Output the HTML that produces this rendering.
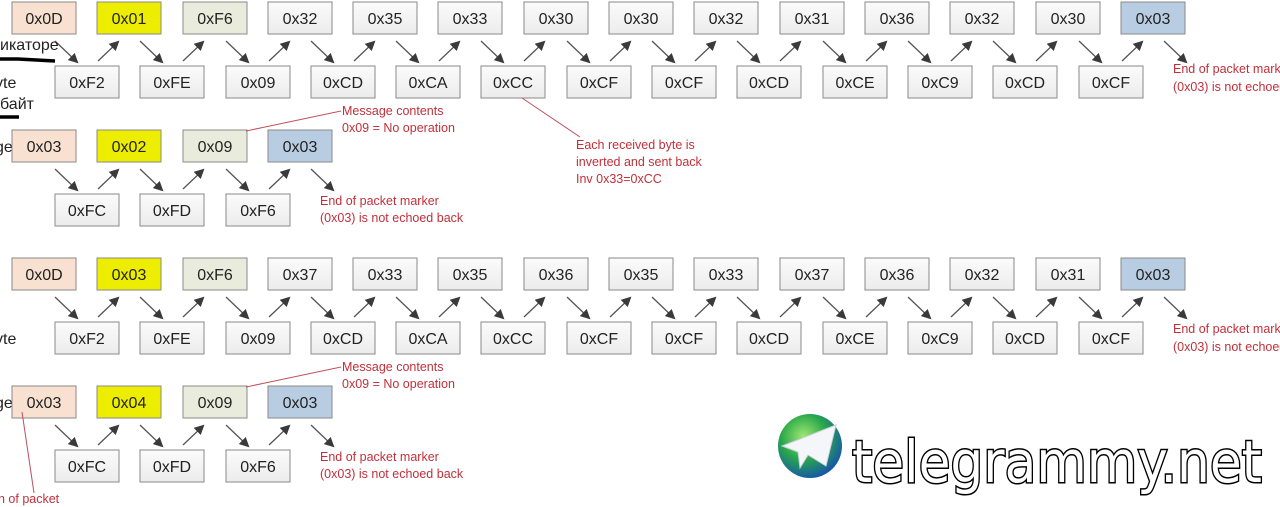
<!DOCTYPE html>
<html><head><meta charset="utf-8"><style>
html,body{margin:0;padding:0;background:#fff;width:1280px;height:507px;overflow:hidden}
svg{display:block}
</style></head><body>
<svg width="1280" height="507" viewBox="0 0 1280 507" xmlns="http://www.w3.org/2000/svg" font-family="'Liberation Sans','Noto Sans CJK SC',sans-serif">
<defs>
<marker id="a" viewBox="0 0 10 10" refX="9" refY="5" markerWidth="7" markerHeight="7" markerUnits="userSpaceOnUse" orient="auto"><path d="M0,0 L10,5 L0,10 z" fill="#3a3a3a"/></marker>
<marker id="a2" viewBox="0 0 10 10" refX="8" refY="5" markerWidth="10" markerHeight="10" markerUnits="userSpaceOnUse" orient="auto"><path d="M0,0 L10,5 L0,10 z" fill="#3a3a3a"/></marker>
<linearGradient id="g" x1="0" y1="0" x2="0" y2="1"><stop offset="0" stop-color="#fbfbfb"/><stop offset="1" stop-color="#ececec"/></linearGradient>
<radialGradient id="globe" cx="0.4" cy="0.35" r="0.7"><stop offset="0" stop-color="#9fe870"/><stop offset="0.5" stop-color="#2aa84a"/><stop offset="1" stop-color="#1450b0"/></radialGradient>
</defs>
<style>
.bx{stroke:#8a8a8a;stroke-width:1}
.w{fill:url(#g)}.p{fill:#f8e1d1}.y{fill:#eded00}.gr{fill:#e9ecdc}.bl{fill:#b9cde2}
.t{font-size:16px;fill:#222;text-anchor:middle}
.ar{stroke:#555;stroke-width:1.3;marker-end:url(#a2)}
.r{font-size:12.5px;fill:#c0303a}
.rl{stroke:#c05060;stroke-width:1;fill:none}
.l{font-size:16px;fill:#222}
</style>

<!-- ROW 1 -->
<g>
<rect class="bx p" x="12" y="2" width="64" height="32"/><text class="t" x="44" y="24">0x0D</text>
<rect class="bx y" x="97" y="2" width="64" height="32"/><text class="t" x="129" y="24">0x01</text>
<rect class="bx gr" x="183" y="2" width="64" height="32"/><text class="t" x="215" y="24">0xF6</text>
<rect class="bx w" x="268" y="2" width="64" height="32"/><text class="t" x="300" y="24">0x32</text>
<rect class="bx w" x="353" y="2" width="64" height="32"/><text class="t" x="385" y="24">0x35</text>
<rect class="bx w" x="438" y="2" width="64" height="32"/><text class="t" x="470" y="24">0x33</text>
<rect class="bx w" x="524" y="2" width="64" height="32"/><text class="t" x="556" y="24">0x30</text>
<rect class="bx w" x="609" y="2" width="64" height="32"/><text class="t" x="641" y="24">0x30</text>
<rect class="bx w" x="694" y="2" width="64" height="32"/><text class="t" x="726" y="24">0x32</text>
<rect class="bx w" x="780" y="2" width="64" height="32"/><text class="t" x="812" y="24">0x31</text>
<rect class="bx w" x="865" y="2" width="64" height="32"/><text class="t" x="897" y="24">0x36</text>
<rect class="bx w" x="950" y="2" width="64" height="32"/><text class="t" x="982" y="24">0x32</text>
<rect class="bx w" x="1036" y="2" width="64" height="32"/><text class="t" x="1068" y="24">0x30</text>
<rect class="bx bl" x="1121" y="2" width="64" height="32"/><text class="t" x="1153" y="24">0x03</text>
</g>
<!-- ROW 2 -->
<g>
<rect class="bx w" x="55" y="66" width="64" height="32"/><text class="t" x="87" y="88">0xF2</text>
<rect class="bx w" x="140" y="66" width="64" height="32"/><text class="t" x="172" y="88">0xFE</text>
<rect class="bx w" x="226" y="66" width="64" height="32"/><text class="t" x="258" y="88">0x09</text>
<rect class="bx w" x="311" y="66" width="64" height="32"/><text class="t" x="343" y="88">0xCD</text>
<rect class="bx w" x="396" y="66" width="64" height="32"/><text class="t" x="428" y="88">0xCA</text>
<rect class="bx w" x="481" y="66" width="64" height="32"/><text class="t" x="513" y="88">0xCC</text>
<rect class="bx w" x="567" y="66" width="64" height="32"/><text class="t" x="599" y="88">0xCF</text>
<rect class="bx w" x="652" y="66" width="64" height="32"/><text class="t" x="684" y="88">0xCF</text>
<rect class="bx w" x="737" y="66" width="64" height="32"/><text class="t" x="769" y="88">0xCD</text>
<rect class="bx w" x="823" y="66" width="64" height="32"/><text class="t" x="855" y="88">0xCE</text>
<rect class="bx w" x="908" y="66" width="64" height="32"/><text class="t" x="940" y="88">0xC9</text>
<rect class="bx w" x="993" y="66" width="64" height="32"/><text class="t" x="1025" y="88">0xCD</text>
<rect class="bx w" x="1079" y="66" width="64" height="32"/><text class="t" x="1111" y="88">0xCF</text>
</g>
<g class="ar">
<line x1="55" y1="41" x2="77" y2="62"/><line x1="98" y1="61" x2="118" y2="42"/>
<line x1="140" y1="41" x2="162" y2="62"/><line x1="183" y1="61" x2="203" y2="42"/>
<line x1="226" y1="41" x2="248" y2="62"/><line x1="269" y1="61" x2="289" y2="42"/>
<line x1="311" y1="41" x2="333" y2="62"/><line x1="354" y1="61" x2="374" y2="42"/>
<line x1="396" y1="41" x2="418" y2="62"/><line x1="439" y1="61" x2="459" y2="42"/>
<line x1="481" y1="41" x2="503" y2="62"/><line x1="524" y1="61" x2="544" y2="42"/>
<line x1="567" y1="41" x2="589" y2="62"/><line x1="610" y1="61" x2="630" y2="42"/>
<line x1="652" y1="41" x2="674" y2="62"/><line x1="695" y1="61" x2="715" y2="42"/>
<line x1="737" y1="41" x2="759" y2="62"/><line x1="780" y1="61" x2="800" y2="42"/>
<line x1="823" y1="41" x2="845" y2="62"/><line x1="866" y1="61" x2="886" y2="42"/>
<line x1="908" y1="41" x2="930" y2="62"/><line x1="951" y1="61" x2="971" y2="42"/>
<line x1="993" y1="41" x2="1015" y2="62"/><line x1="1036" y1="61" x2="1056" y2="42"/>
<line x1="1079" y1="41" x2="1101" y2="62"/><line x1="1122" y1="61" x2="1142" y2="42"/>
<line x1="1164" y1="41" x2="1186" y2="62"/>
</g>
<text class="r" x="1173" y="73">End of packet marker</text>
<text class="r" x="1173" y="91">(0x03) is not echoed back</text>

<text class="l" x="0" y="50">икаторе</text>
<path d="M0,59 L18,59 L55,61" stroke="#000" stroke-width="3.5" fill="none"/>
<text class="l" x="-5" y="88" font-size="17">yte</text>
<text class="l" x="0" y="109">байт</text>
<line x1="0" y1="117" x2="19" y2="117" stroke="#000" stroke-width="3.5"/>
<text class="l" x="-5" y="152" font-size="17">ge</text>

<!-- ROW 3 -->
<rect class="bx p" x="12" y="130" width="64" height="32"/><text class="t" x="44" y="152">0x03</text>
<rect class="bx y" x="97" y="130" width="64" height="32"/><text class="t" x="129" y="152">0x02</text>
<rect class="bx gr" x="183" y="130" width="64" height="32"/><text class="t" x="215" y="152">0x09</text>
<rect class="bx bl" x="268" y="130" width="64" height="32"/><text class="t" x="300" y="152">0x03</text>
<!-- ROW 4 -->
<rect class="bx w" x="55" y="194" width="64" height="32"/><text class="t" x="87" y="216">0xFC</text>
<rect class="bx w" x="140" y="194" width="64" height="32"/><text class="t" x="172" y="216">0xFD</text>
<rect class="bx w" x="226" y="194" width="64" height="32"/><text class="t" x="258" y="216">0xF6</text>
<g class="ar">
<line x1="55" y1="169" x2="77" y2="190"/><line x1="98" y1="189" x2="118" y2="170"/>
<line x1="140" y1="169" x2="162" y2="190"/><line x1="183" y1="189" x2="203" y2="170"/>
<line x1="226" y1="169" x2="248" y2="190"/><line x1="269" y1="189" x2="289" y2="170"/>
<line x1="311" y1="169" x2="333" y2="190"/>
</g>
<line class="rl" x1="246" y1="131" x2="341" y2="111"/>
<text class="r" x="342" y="115">Message contents</text>
<text class="r" x="342" y="132">0x09 = No operation</text>
<text class="r" x="320" y="205">End of packet marker</text>
<text class="r" x="320" y="222">(0x03) is not echoed back</text>
<line class="rl" x1="522" y1="98" x2="580" y2="137"/>
<text class="r" x="576" y="149">Each received byte is</text>
<text class="r" x="576" y="166">inverted and sent back</text>
<text class="r" x="576" y="183">Inv 0x33=0xCC</text>

<!-- ROW 5 -->
<g>
<rect class="bx p" x="12" y="258" width="64" height="32"/><text class="t" x="44" y="280">0x0D</text>
<rect class="bx y" x="97" y="258" width="64" height="32"/><text class="t" x="129" y="280">0x03</text>
<rect class="bx gr" x="183" y="258" width="64" height="32"/><text class="t" x="215" y="280">0xF6</text>
<rect class="bx w" x="268" y="258" width="64" height="32"/><text class="t" x="300" y="280">0x37</text>
<rect class="bx w" x="353" y="258" width="64" height="32"/><text class="t" x="385" y="280">0x33</text>
<rect class="bx w" x="438" y="258" width="64" height="32"/><text class="t" x="470" y="280">0x35</text>
<rect class="bx w" x="524" y="258" width="64" height="32"/><text class="t" x="556" y="280">0x36</text>
<rect class="bx w" x="609" y="258" width="64" height="32"/><text class="t" x="641" y="280">0x35</text>
<rect class="bx w" x="694" y="258" width="64" height="32"/><text class="t" x="726" y="280">0x33</text>
<rect class="bx w" x="780" y="258" width="64" height="32"/><text class="t" x="812" y="280">0x37</text>
<rect class="bx w" x="865" y="258" width="64" height="32"/><text class="t" x="897" y="280">0x36</text>
<rect class="bx w" x="950" y="258" width="64" height="32"/><text class="t" x="982" y="280">0x32</text>
<rect class="bx w" x="1036" y="258" width="64" height="32"/><text class="t" x="1068" y="280">0x31</text>
<rect class="bx bl" x="1121" y="258" width="64" height="32"/><text class="t" x="1153" y="280">0x03</text>
</g>
<!-- ROW 6 -->
<g>
<rect class="bx w" x="55" y="322" width="64" height="32"/><text class="t" x="87" y="344">0xF2</text>
<rect class="bx w" x="140" y="322" width="64" height="32"/><text class="t" x="172" y="344">0xFE</text>
<rect class="bx w" x="226" y="322" width="64" height="32"/><text class="t" x="258" y="344">0x09</text>
<rect class="bx w" x="311" y="322" width="64" height="32"/><text class="t" x="343" y="344">0xCD</text>
<rect class="bx w" x="396" y="322" width="64" height="32"/><text class="t" x="428" y="344">0xCA</text>
<rect class="bx w" x="481" y="322" width="64" height="32"/><text class="t" x="513" y="344">0xCC</text>
<rect class="bx w" x="567" y="322" width="64" height="32"/><text class="t" x="599" y="344">0xCF</text>
<rect class="bx w" x="652" y="322" width="64" height="32"/><text class="t" x="684" y="344">0xCF</text>
<rect class="bx w" x="737" y="322" width="64" height="32"/><text class="t" x="769" y="344">0xCD</text>
<rect class="bx w" x="823" y="322" width="64" height="32"/><text class="t" x="855" y="344">0xCE</text>
<rect class="bx w" x="908" y="322" width="64" height="32"/><text class="t" x="940" y="344">0xC9</text>
<rect class="bx w" x="993" y="322" width="64" height="32"/><text class="t" x="1025" y="344">0xCD</text>
<rect class="bx w" x="1079" y="322" width="64" height="32"/><text class="t" x="1111" y="344">0xCF</text>
</g>
<g class="ar">
<line x1="55" y1="297" x2="77" y2="318"/><line x1="98" y1="317" x2="118" y2="298"/>
<line x1="140" y1="297" x2="162" y2="318"/><line x1="183" y1="317" x2="203" y2="298"/>
<line x1="226" y1="297" x2="248" y2="318"/><line x1="269" y1="317" x2="289" y2="298"/>
<line x1="311" y1="297" x2="333" y2="318"/><line x1="354" y1="317" x2="374" y2="298"/>
<line x1="396" y1="297" x2="418" y2="318"/><line x1="439" y1="317" x2="459" y2="298"/>
<line x1="481" y1="297" x2="503" y2="318"/><line x1="524" y1="317" x2="544" y2="298"/>
<line x1="567" y1="297" x2="589" y2="318"/><line x1="610" y1="317" x2="630" y2="298"/>
<line x1="652" y1="297" x2="674" y2="318"/><line x1="695" y1="317" x2="715" y2="298"/>
<line x1="737" y1="297" x2="759" y2="318"/><line x1="780" y1="317" x2="800" y2="298"/>
<line x1="823" y1="297" x2="845" y2="318"/><line x1="866" y1="317" x2="886" y2="298"/>
<line x1="908" y1="297" x2="930" y2="318"/><line x1="951" y1="317" x2="971" y2="298"/>
<line x1="993" y1="297" x2="1015" y2="318"/><line x1="1036" y1="317" x2="1056" y2="298"/>
<line x1="1079" y1="297" x2="1101" y2="318"/><line x1="1122" y1="317" x2="1142" y2="298"/>
<line x1="1164" y1="297" x2="1186" y2="318"/>
</g>
<text class="r" x="1173" y="333">End of packet marker</text>
<text class="r" x="1173" y="351">(0x03) is not echoed back</text>
<text class="l" x="-5" y="344" font-size="17">yte</text>
<text class="l" x="-5" y="408" font-size="17">ge</text>

<!-- ROW 7 -->
<rect class="bx p" x="12" y="386" width="64" height="32"/><text class="t" x="44" y="408">0x03</text>
<rect class="bx y" x="97" y="386" width="64" height="32"/><text class="t" x="129" y="408">0x04</text>
<rect class="bx gr" x="183" y="386" width="64" height="32"/><text class="t" x="215" y="408">0x09</text>
<rect class="bx bl" x="268" y="386" width="64" height="32"/><text class="t" x="300" y="408">0x03</text>
<!-- ROW 8 -->
<rect class="bx w" x="55" y="450" width="64" height="32"/><text class="t" x="87" y="472">0xFC</text>
<rect class="bx w" x="140" y="450" width="64" height="32"/><text class="t" x="172" y="472">0xFD</text>
<rect class="bx w" x="226" y="450" width="64" height="32"/><text class="t" x="258" y="472">0xF6</text>
<g class="ar">
<line x1="55" y1="425" x2="77" y2="446"/><line x1="98" y1="445" x2="118" y2="426"/>
<line x1="140" y1="425" x2="162" y2="446"/><line x1="183" y1="445" x2="203" y2="426"/>
<line x1="226" y1="425" x2="248" y2="446"/><line x1="269" y1="445" x2="289" y2="426"/>
<line x1="311" y1="425" x2="333" y2="446"/>
</g>
<line class="rl" x1="246" y1="387" x2="341" y2="367"/>
<text class="r" x="342" y="371">Message contents</text>
<text class="r" x="342" y="388">0x09 = No operation</text>
<text class="r" x="320" y="461">End of packet marker</text>
<text class="r" x="320" y="478">(0x03) is not echoed back</text>
<line class="rl" x1="22" y1="412" x2="34" y2="493"/>
<text class="r" x="-2" y="503">h of packet</text>

<!-- logo -->
<circle cx="810" cy="446" r="32" fill="url(#globe)"/>
<path d="M782,446 L836,425 L826,466 L808,455 L800,468 L798,452 Z" fill="#f4f6fa" stroke="#c8d0dc" stroke-width="1"/>
<text x="852" y="482" font-family="'DejaVu Sans','Liberation Sans',sans-serif" font-size="58" fill="#fff" stroke="#000" stroke-width="3" paint-order="stroke" textLength="410" lengthAdjust="spacingAndGlyphs">telegrammy.net</text>
</svg>
</body></html>
